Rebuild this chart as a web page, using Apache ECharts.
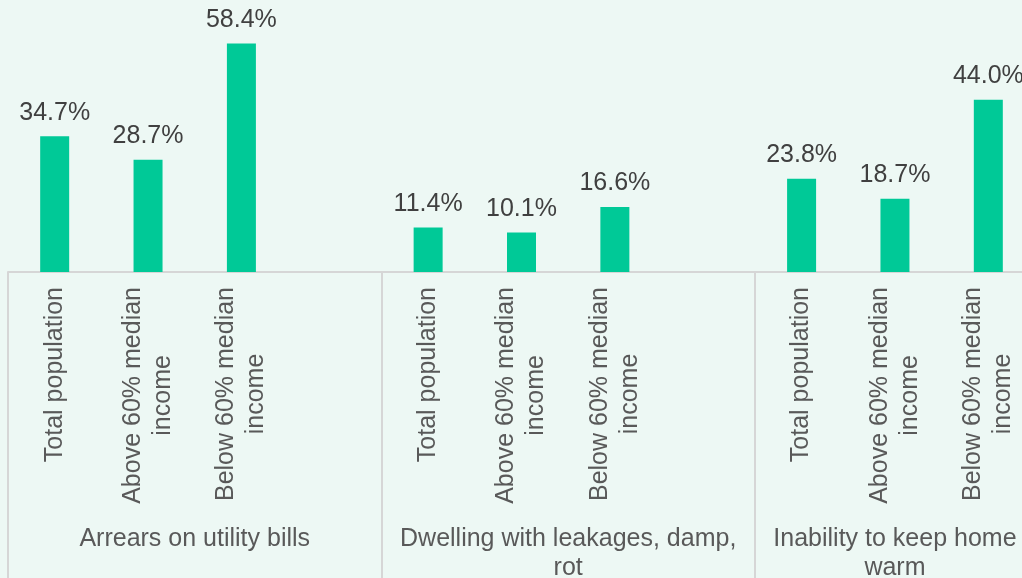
<!DOCTYPE html>
<html>
<head>
<meta charset="utf-8">
<title>Housing deprivation by income group</title>
<script src="https://cdn.jsdelivr.net/npm/echarts@6/dist/echarts.min.js"></script>
<style>
  html, body { margin: 0; padding: 0; background: #EDF8F4; }
  #chart { width: 1022px; height: 578px; }
</style>
</head>
<body>
<div id="chart"></div>
<script>
// Income sub-groups shown under every indicator
const subgroups = ['Total population', 'Above 60% median\nincome', 'Below 60% median\nincome'];

// Indicators (outer category level)
const groups = ['Arrears on utility bills', 'Dwelling with leakages, damp,\nrot', 'Inability to keep home\nwarm'];

// Shares of population (%), one array per indicator, in subgroup order
const arrearsUtility = [34.7, 28.7, 58.4];
const dwellingDamp = [11.4, 10.1, 16.6];
const keepHomeWarm = [23.8, 18.7, 44.0];

const groupValues = [arrearsUtility, dwellingDamp, keepHomeWarm];
// Number of category slots per indicator (a blank slot separates the blocks)
const groupSlots = [4, 4, 3];

// Flatten into one category axis with spacer slots
const categories = [];
const values = [];
const groupCenters = {};
let slot = 0;
groupValues.forEach((vals, g) => {
  groupCenters[(slot + groupSlots[g] / 2).toFixed(1)] = groups[g];
  for (let i = 0; i < groupSlots[g]; i++) {
    categories.push(i < subgroups.length ? subgroups[i] : '');
    values.push(i < vals.length ? vals[i] : null);
  }
  slot += groupSlots[g];
});
// Slot indices where a new indicator block begins
const blockStarts = [];
slot = 0;
groupSlots.forEach(n => { blockStarts.push(slot); slot += n; });

const FONT = '"Liberation Sans", Arial, sans-serif';
const GRID_LINE = '#D6D6D6';

const chart = echarts.init(document.getElementById('chart'));
chart.setOption({
  backgroundColor: '#EDF8F4',
  animation: false,
  textStyle: { fontFamily: FONT },
  // The plot runs slightly past the right edge of the canvas
  grid: {
    left: 8, width: 1027, top: -2, height: 274,
    containLabel: false,
    outerBoundsMode: 'none'
  },
  xAxis: [
    {
      type: 'category',
      data: categories,
      boundaryGap: true,
      axisLine: { show: true, lineStyle: { color: GRID_LINE, width: 2 } },
      axisTick: {
        show: true,
        alignWithLabel: false,
        interval: (index) => blockStarts.indexOf(index) !== -1,
        length: 320,
        lineStyle: { color: GRID_LINE, width: 2 }
      },
      axisLabel: {
        interval: 0,
        rotate: 90,
        margin: 15,
        fontSize: 25,
        color: '#595959',
        fontFamily: FONT,
        formatter: (v) => v ? v.split('\n').map(l => '{c|' + l + '}').join('\n') : '',
        rich: {
          c: { align: 'center', fontSize: 25, lineHeight: 30, color: '#595959', fontFamily: FONT }
        }
      },
      splitLine: { show: false }
    },
    {
      // Outer level: indicator names centred under their blocks
      type: 'value',
      position: 'bottom',
      min: 0,
      max: categories.length,
      interval: 0.5,
      axisLine: { show: false },
      axisTick: { show: false },
      splitLine: { show: false },
      axisLabel: {
        margin: 253,
        fontSize: 25,
        lineHeight: 29,
        color: '#595959',
        fontFamily: FONT,
        align: 'center',
        showMinLabel: true,
        showMaxLabel: true,
        formatter: (v) => groupCenters[v.toFixed(1)] || ''
      }
    }
  ],
  yAxis: {
    type: 'value',
    min: 0,
    max: 70,
    show: false,
    splitLine: { show: false }
  },
  series: [
    {
      type: 'bar',
      xAxisIndex: 0,
      data: values,
      barWidth: 29,
      itemStyle: { color: '#00C997' },
      label: {
        show: true,
        position: 'top',
        distance: 11,
        fontSize: 25,
        color: '#404040',
        fontFamily: FONT,
        formatter: (p) => p.value == null ? '' : p.value.toFixed(1) + '%'
      }
    }
  ]
});
</script>
</body>
</html>
